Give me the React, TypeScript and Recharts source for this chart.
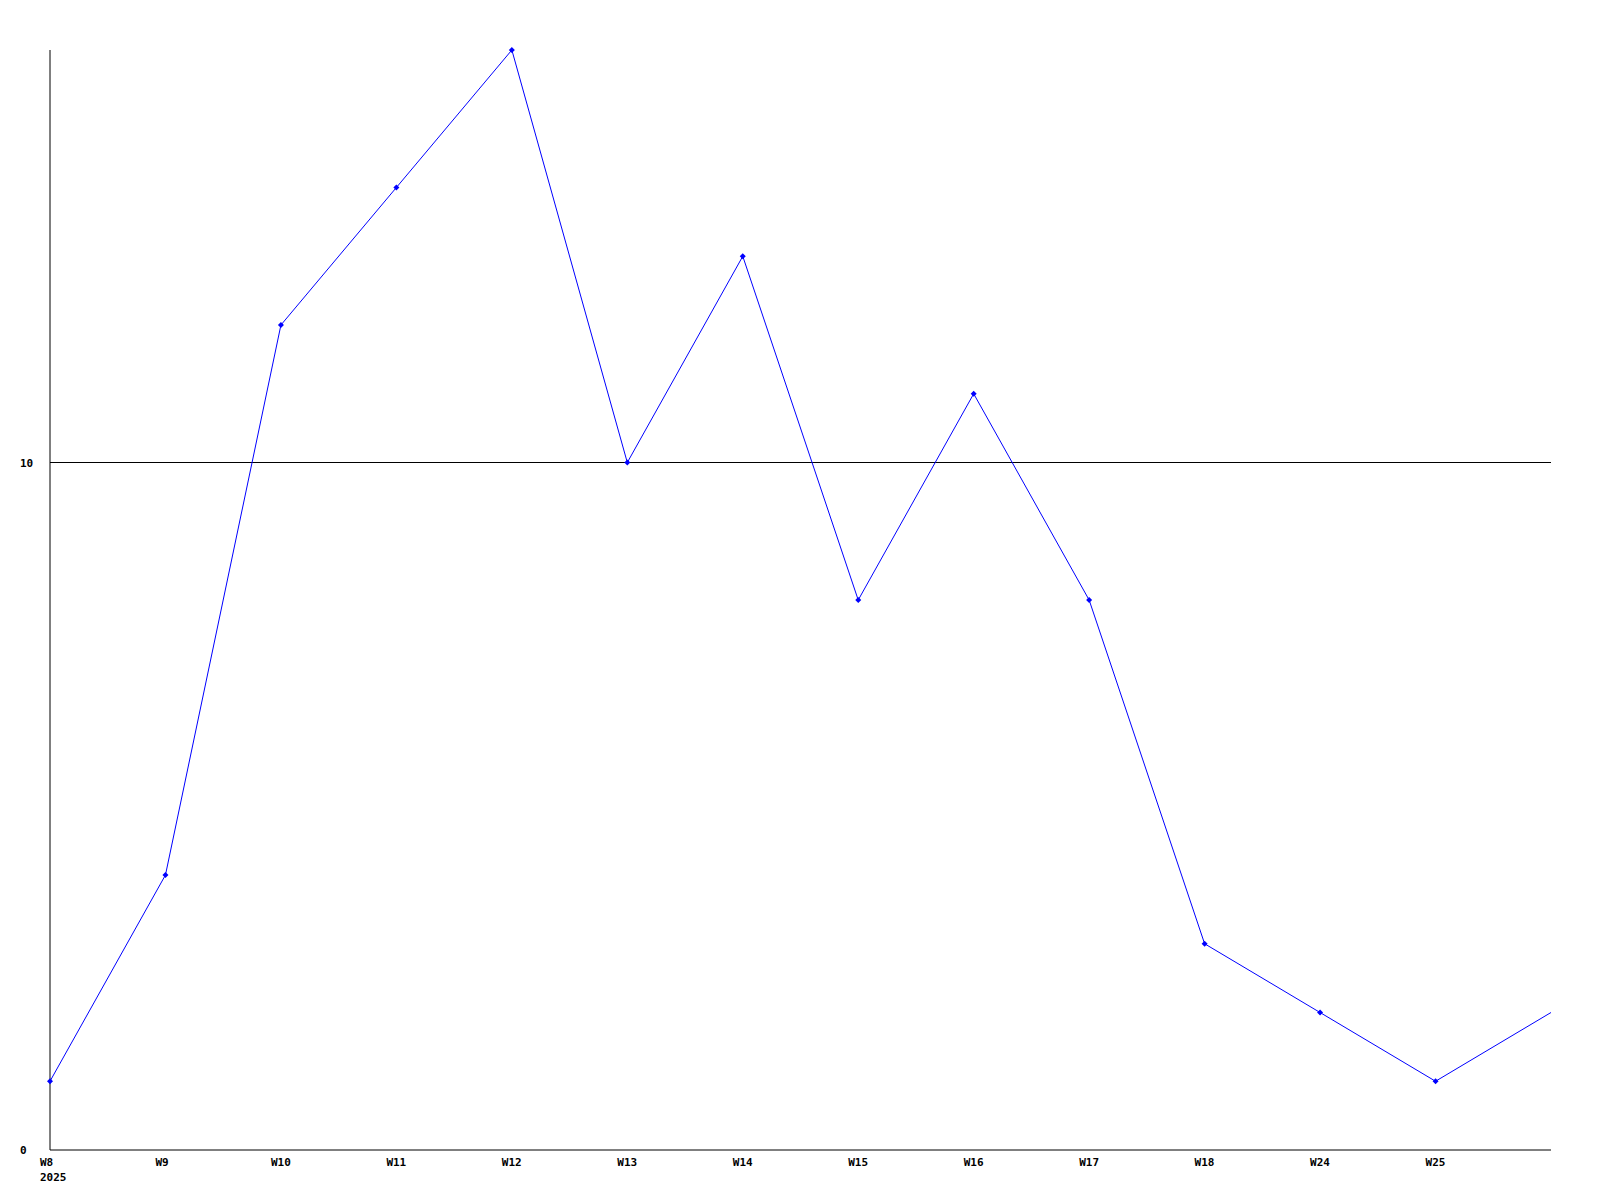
import { LineChart, Line, XAxis, YAxis, ReferenceLine } from 'recharts'

const weeks = ['W8', 'W9', 'W10', 'W11', 'W12', 'W13', 'W14', 'W15', 'W16', 'W17', 'W18', 'W24', 'W25', '']
const counts = [1, 4, 12, 14, 16, 10, 13, 8, 11, 8, 3, 2, 1, 2]
const yearLabel = '2025'
const yTicks = [0, 10]

const data = weeks.map((week, i) => ({ week, count: counts[i] }))

const FONT = '"DejaVu Sans Mono", "Liberation Mono", monospace'

function WeekTick({ x, y, payload, index }: any) {
  return (
    <g>
      <text x={x - 10} y={y + 8} textAnchor="start" fontFamily={FONT} fontWeight="bold" fontSize={11} fill="#000">
        {payload.value}
      </text>
      {index === 0 && (
        <text x={x - 10} y={y + 23} textAnchor="start" fontFamily={FONT} fontWeight="bold" fontSize={11} fill="#000">
          {yearLabel}
        </text>
      )}
    </g>
  )
}

function CountTick({ y, payload }: any) {
  return (
    <text x={20} y={y + 4} textAnchor="start" fontFamily={FONT} fontWeight="bold" fontSize={11} fill="#000">
      {payload.value}
    </text>
  )
}

function Diamond({ cx, cy, index }: any) {
  if (index === weeks.length - 1) return <g key={index} />
  return (
    <polygon
      key={index}
      points={`${cx},${cy - 3} ${cx + 3},${cy} ${cx},${cy + 3} ${cx - 3},${cy}`}
      fill="#0000ff"
    />
  )
}

export default function App() {
  return (
    <div style={{ position: 'absolute', left: 0, top: 0, width: 1600, height: 1200, background: '#fff' }}>
      <LineChart width={1600} height={1200} data={data} margin={{ top: 50, right: 49, bottom: 0, left: 0 }}>
        <XAxis
          dataKey="week"
          interval={0}
          height={50}
          tickLine={false}
          axisLine={{ stroke: '#000', strokeWidth: 1 }}
          tick={<WeekTick />}
        />
        <YAxis
          domain={[0, 16]}
          ticks={yTicks}
          width={50}
          tickLine={false}
          axisLine={{ stroke: '#000', strokeWidth: 1 }}
          tick={<CountTick />}
        />
        <ReferenceLine y={10} stroke="#000" strokeWidth={1} />
        <Line
          type="linear"
          dataKey="count"
          stroke="#0000ff"
          strokeWidth={1}
          dot={<Diamond />}
          activeDot={false}
          isAnimationActive={false}
        />
      </LineChart>
    </div>
  )
}
